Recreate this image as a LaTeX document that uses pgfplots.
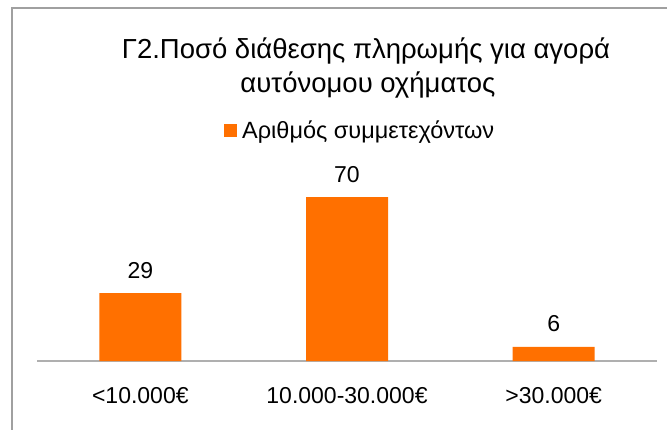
\documentclass[border=0pt]{standalone}
\usepackage{fontspec}
\setmainfont{Liberation Sans}
\usepackage{pgfplots}
\pgfplotsset{compat=1.18}
\definecolor{barorange}{RGB}{255,112,0}
\definecolor{bordergray}{RGB}{160,160,160}
\definecolor{axisgray}{RGB}{175,175,175}
\begin{document}
\begin{tikzpicture}[x=1pt,y=1pt]
\useasboundingbox (0,0) rectangle (667,429);
\clip (0,0) rectangle (667,429);
\fill[white] (0,0) rectangle (667,429);
\draw[bordergray, line width=1.5pt] (12,-20) -- (12,421) -- (700,421);
\node[anchor=base, font=\fontsize{27.5}{32}\selectfont] at (366,370) {Γ2.Ποσό διάθεσης πληρωμής για αγορά};
\node[anchor=base, font=\fontsize{27.5}{32}\selectfont] at (368,336) {αυτόνομου οχήματος};
\begin{axis}[
  at={(37pt,68pt)}, anchor=south west,
  scale only axis, width=620pt, height=187.4pt,
  xmin=-0.5, xmax=2.5, ymin=0, ymax=80,
  /pgf/number format/assume math mode=true,
  hide y axis,
  axis x line*=bottom,
  x axis line style={axisgray, line width=1.2pt, -},
  xtick={0,1,2},
  xticklabels={<10.000€, 10.000-30.000€, >30.000€},
  major tick length=0pt,
  xticklabel style={anchor=base, yshift=-42pt, font=\fontsize{23}{27}\selectfont},
  ybar, bar width=82pt,
  nodes near coords,
  every node near coord/.append style={anchor=base, yshift=15pt, font=\fontsize{23}{27}\selectfont, text=black},
  legend style={at={(0.3016,1.2327)}, anchor=west, draw=none, fill=none, inner sep=0pt,
    font=\fontsize{23.5}{27}\selectfont,
    /tikz/every odd column/.append style={column sep=3pt}},
  legend image code/.code={\fill[barorange] (0pt,-6.5pt) rectangle (13pt,6.5pt);},
]
\addplot[fill=barorange, draw=none] coordinates {(0,29) (1,70) (2,6)};
\addlegendentry{Αριθμός συμμετεχόντων}
\end{axis}
\end{tikzpicture}
\end{document}
